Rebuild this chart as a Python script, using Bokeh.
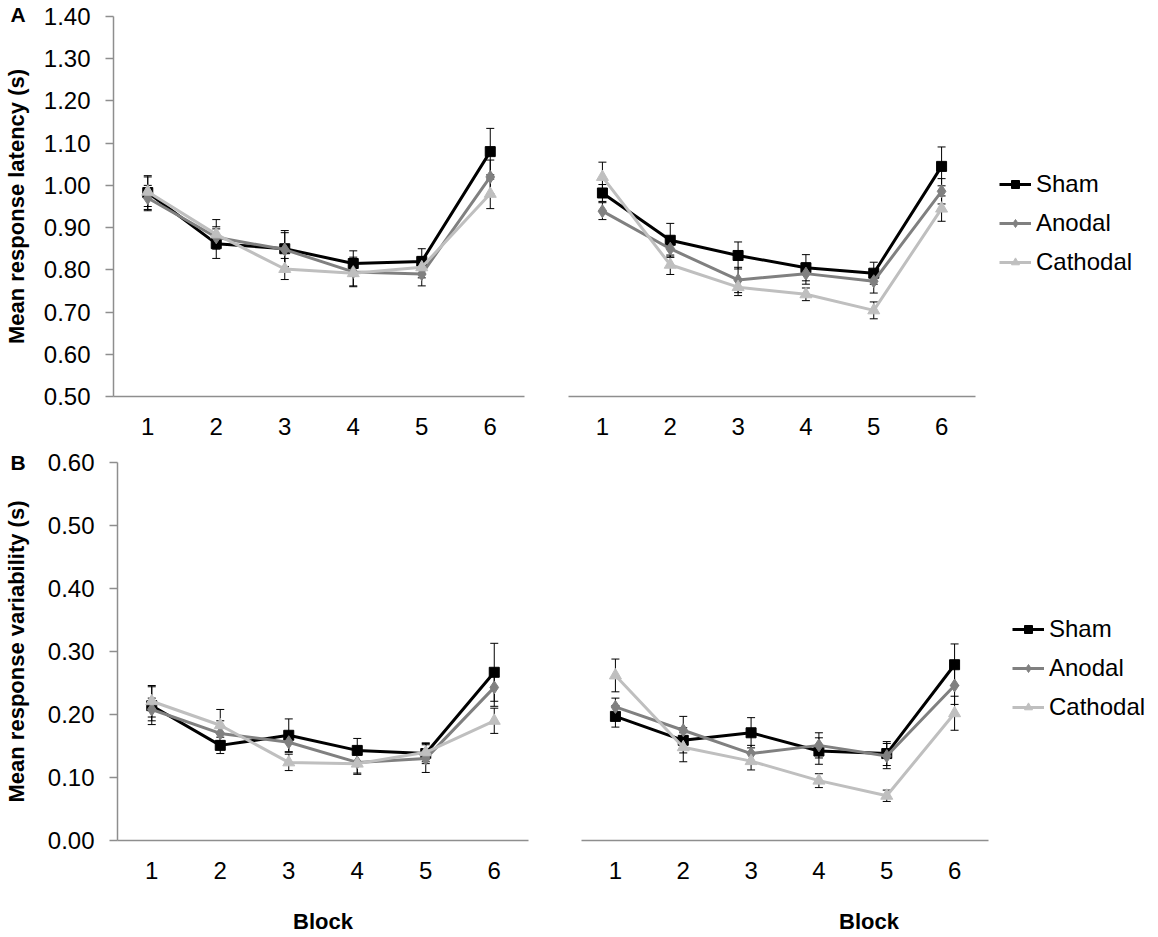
from bokeh.plotting import figure
from bokeh.layouts import column, row
from bokeh.models import (ColumnDataSource, Range1d, FixedTicker, NumeralTickFormatter,
                          Whisker, TeeHead, Legend, LegendItem, Label)
from bokeh.embed import file_html
from bokeh.resources import INLINE

# ---------------- data ----------------
blocks = [1, 2, 3, 4, 5, 6]
series_names = ["Sham", "Anodal", "Cathodal"]

# Panel A left (latency)
lat1_sham = [0.983, 0.862, 0.850, 0.815, 0.820, 1.080]
lat1_anodal = [0.970, 0.877, 0.848, 0.795, 0.790, 1.020]
lat1_cathodal = [0.985, 0.884, 0.802, 0.792, 0.806, 0.980]
lat1_sham_se = [0.040, 0.035, 0.043, 0.030, 0.030, 0.055]
lat1_anodal_se = [0.030, 0.025, 0.040, 0.035, 0.028, 0.040]
lat1_cathodal_se = [0.035, 0.035, 0.025, 0.030, 0.025, 0.035]

# Panel A right (latency)
lat2_sham = [0.982, 0.870, 0.834, 0.805, 0.792, 1.045]
lat2_anodal = [0.939, 0.850, 0.776, 0.791, 0.773, 0.986]
lat2_cathodal = [1.020, 0.812, 0.759, 0.742, 0.704, 0.945]
lat2_sham_se = [0.020, 0.040, 0.032, 0.031, 0.026, 0.046]
lat2_anodal_se = [0.020, 0.020, 0.030, 0.025, 0.028, 0.030]
lat2_cathodal_se = [0.035, 0.023, 0.020, 0.015, 0.020, 0.030]

# Panel B left (variability)
var1_sham = [0.214, 0.151, 0.167, 0.143, 0.138, 0.267]
var1_anodal = [0.208, 0.170, 0.156, 0.124, 0.130, 0.243]
var1_cathodal = [0.221, 0.183, 0.124, 0.122, 0.140, 0.190]
var1_sham_se = [0.030, 0.013, 0.026, 0.019, 0.016, 0.046]
var1_anodal_se = [0.018, 0.020, 0.016, 0.017, 0.022, 0.030]
var1_cathodal_se = [0.025, 0.025, 0.013, 0.017, 0.015, 0.020]

# Panel B right (variability)
var2_sham = [0.197, 0.159, 0.171, 0.142, 0.138, 0.279]
var2_anodal = [0.212, 0.175, 0.138, 0.151, 0.134, 0.246]
var2_cathodal = [0.262, 0.148, 0.126, 0.095, 0.071, 0.202]
var2_sham_se = [0.017, 0.020, 0.024, 0.021, 0.019, 0.033]
var2_anodal_se = [0.014, 0.022, 0.013, 0.020, 0.020, 0.030]
var2_cathodal_se = [0.026, 0.023, 0.014, 0.011, 0.009, 0.027]

lat_ticks = [0.5, 0.6, 0.7, 0.8, 0.9, 1.0, 1.1, 1.2, 1.3, 1.4]
var_ticks = [0.0, 0.1, 0.2, 0.3, 0.4, 0.5, 0.6]

# ---------------- style ----------------
FONT = "Liberation Sans"
AXIS_COL = "#8e8e8e"
COLORS = {"Sham": "#000000", "Anodal": "#808080", "Cathodal": "#bfbfbf"}
MARKERS = {"Sham": "square", "Anodal": "diamond", "Cathodal": "triangle"}
MSIZE = {"Sham": 10, "Anodal": 13, "Cathodal": 12}

PX_PER_BLOCK_R = 407 / 6.0   # right panels: 6 blocks over the drawn axis


def make_panel(width, height, bl, bt, bb, br, xend, yr, yticks, show_y, ylabel, ystand,
               xlabel, data):
    p = figure(width=width, height=height, output_backend="svg", toolbar_location=None,
               x_range=Range1d(0.5, xend), y_range=Range1d(yr[0], yr[1]),
               min_border_left=bl, min_border_top=bt, min_border_bottom=bb,
               min_border_right=br)
    p.outline_line_color = None
    p.xgrid.visible = False
    p.ygrid.visible = False
    p.background_fill_color = "white"
    p.border_fill_color = "white"

    xa = p.xaxis[0]
    xa.ticker = FixedTicker(ticks=blocks)
    xa.bounds = (0.5, 6.5)
    xa.axis_line_color = AXIS_COL
    xa.axis_line_width = 1.5
    xa.major_tick_line_color = None
    xa.major_tick_out = 0
    xa.major_tick_in = 0
    xa.minor_tick_line_color = None
    xa.major_label_standoff = 21
    xa.major_label_text_font = FONT
    xa.major_label_text_font_size = "24px"
    xa.major_label_text_color = "black"
    if xlabel:
        xa.axis_label = xlabel
        xa.axis_label_text_font = FONT
        xa.axis_label_text_font_style = "bold"
        xa.axis_label_text_font_size = "22px"
        xa.axis_label_text_color = "black"
        xa.axis_label_standoff = 27

    ya = p.yaxis[0]
    if show_y:
        ya.ticker = FixedTicker(ticks=yticks)
        ya.formatter = NumeralTickFormatter(format="0.00")
        ya.axis_line_color = AXIS_COL
        ya.axis_line_width = 1.5
        ya.major_tick_line_color = AXIS_COL
        ya.major_tick_line_width = 1.5
        ya.major_tick_out = 8
        ya.major_tick_in = 0
        ya.minor_tick_line_color = None
        ya.major_label_standoff = 15
        ya.major_label_text_font = FONT
        ya.major_label_text_font_size = "24px"
        ya.major_label_text_color = "black"
        ya.axis_label = ylabel
        ya.axis_label_text_font = FONT
        ya.axis_label_text_font_style = "bold"
        ya.axis_label_text_font_size = "22px"
        ya.axis_label_text_color = "black"
        ya.axis_label_standoff = ystand
    else:
        ya.visible = False

    items = []
    for name, (vals, se) in zip(series_names, data):
        src = ColumnDataSource(dict(x=blocks, y=vals,
                                    upper=[v + e for v, e in zip(vals, se)],
                                    lower=[v - e for v, e in zip(vals, se)]))
        lr = p.line("x", "y", source=src, line_color=COLORS[name], line_width=3)
        sr = p.scatter("x", "y", source=src, marker=MARKERS[name], size=MSIZE[name],
                       fill_color=COLORS[name], line_color=COLORS[name])
        w = Whisker(base="x", upper="upper", lower="lower", source=src,
                    line_color="black", line_width=1,
                    upper_head=TeeHead(size=8, line_color="black", line_width=1),
                    lower_head=TeeHead(size=8, line_color="black", line_width=1))
        p.add_layout(w)
        items.append(LegendItem(label=name, renderers=[lr, sr]))
    return p, items


def add_legend(p, items, y):
    lg = Legend(items=items, location=(431, y), orientation="vertical",
                border_line_color=None, background_fill_alpha=0,
                padding=0, margin=0, spacing=11, glyph_width=32, glyph_height=20,
                label_standoff=5, label_text_font=FONT, label_text_font_size="24px",
                label_text_color="black")
    p.add_layout(lg, "center")


W_L = 564
W_R = 1156 - W_L
# Row 1 (latency): frames at x 113-524 and 568-975
p1, _ = make_panel(W_L, 446, 113, 16, 50, W_L - 113 - 411, 6.5, (0.5, 1.4), lat_ticks, True,
                   "Mean response latency (s)", 12, None,
                   [(lat1_sham, lat1_sham_se), (lat1_anodal, lat1_anodal_se),
                    (lat1_cathodal, lat1_cathodal_se)])
bl2 = 568 - W_L
p2, it2 = make_panel(W_R, 446, bl2, 16, 50, 0, 0.5 + (W_R - bl2) / PX_PER_BLOCK_R,
                     (0.5, 1.4), lat_ticks, False, None, 0, None,
                     [(lat2_sham, lat2_sham_se), (lat2_anodal, lat2_anodal_se),
                      (lat2_cathodal, lat2_cathodal_se)])
add_legend(p2, it2, 120)

# Row 2 (variability): frames at x 117-528 and 581-988
p3, _ = make_panel(W_L, 490, 117, 16, 96, W_L - 117 - 411, 6.5, (0.0, 0.6), var_ticks, True,
                   "Mean response variability (s)", 16, "Block",
                   [(var1_sham, var1_sham_se), (var1_anodal, var1_anodal_se),
                    (var1_cathodal, var1_cathodal_se)])
bl4 = 581 - W_L
p4, it4 = make_panel(W_R, 490, bl4, 16, 96, 0, 0.5 + (W_R - bl4) / PX_PER_BLOCK_R,
                     (0.0, 0.6), var_ticks, False, None, 0, "Block",
                     [(var2_sham, var2_sham_se), (var2_anodal, var2_anodal_se),
                      (var2_cathodal, var2_cathodal_se)])
add_legend(p4, it4, 119)

# Panel letters: placed in the (roomy) right border panel, offset back to the far left
p1.add_layout(Label(x=10 - 524, y=382, x_units="screen", y_units="screen", text="A",
                    text_font=FONT, text_font_style="bold", text_font_size="21px",
                    text_color="black", text_baseline="alphabetic"), "right")
p3.add_layout(Label(x=10 - 528, y=378, x_units="screen", y_units="screen", text="B",
                    text_font=FONT, text_font_style="bold", text_font_size="21px",
                    text_color="black", text_baseline="alphabetic"), "right")

layout = column(row(p1, p2), row(p3, p4))
open("out.html", "w").write(file_html(layout, INLINE))
